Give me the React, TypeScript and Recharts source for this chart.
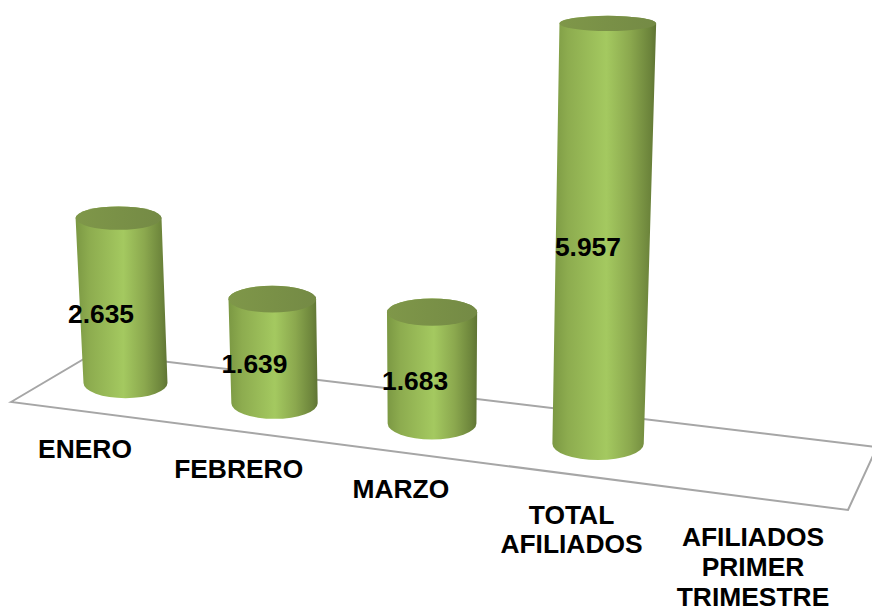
import { Bar, BarChart, LabelList, XAxis, YAxis } from "recharts"

const CATEGORIES = ["ENERO", "FEBRERO", "MARZO", "TOTAL AFILIADOS"]
const AFILIADOS = [2635, 1639, 1683, 5957]
const SERIES_NAME = "AFILIADOS PRIMER TRIMESTRE"

const chartData = CATEGORIES.map((name, i) => ({ name, afiliados: AFILIADOS[i] }))

const FONT = "'Liberation Sans', Arial, sans-serif"
const FONT_SIZE = 26.4
const PLOT_HEIGHT = 480
const Y_MAX = 6000

// the original is a 3D chart, so every bar goes through this perspective
const depthOf = (cx: number) => (cx - 125) / 149
const screenX = (k: number) => 125 + 149 * k + 4.25 * k * (k - 1)
const groundY = (k: number) => 383 + 20.2 * k
const pxPerUnit = (k: number) => 0.0626 + 0.00003 * k + 0.00087 * k * k
const convergence = 1.38e-4
const ellipseRy = (y: number) => 7.6 + 0.021 * (y - 23)

const formatValue = (v: number) => String(v).replace(/\B(?=(\d{3})+$)/g, ".")

const project = (x: number, width: number, height: number) => {
  const k = depthOf(x + width / 2)
  const cxB = screenX(k)
  const yB = groundY(k)
  const h = height * (pxPerUnit(k) / (PLOT_HEIGHT / Y_MAX))
  const rxB = (width / 2) * (1 + (0.0078 * (cxB - 125)) / 42)
  const lean = (cxB - 430) * convergence * h
  const rxT = rxB * (1 + h * convergence)
  return { k, cxB, yB, rxB, rxT, cxT: cxB + lean, yT: yB - h }
}

const Cylinder = (props: any) => {
  const { x, width, height } = props
  const { cxB, yB, rxB, rxT, cxT, yT } = project(x, width, height)
  const ryB = ellipseRy(yB)
  const ryT = ellipseRy(yT)
  const d = [
    `M${cxT - rxT},${yT}`,
    `L${cxB - rxB},${yB}`,
    `A${rxB},${ryB} 0 0 0 ${cxB + rxB},${yB}`,
    `L${cxT + rxT},${yT}`,
    `A${rxT},${ryT} 0 0 0 ${cxT - rxT},${yT}`,
    "Z",
  ].join(" ")
  return (
    <g>
      <path d={d} fill="url(#cylinderBody)" />
      <ellipse cx={cxT} cy={yT} rx={rxT} ry={ryT} fill="url(#cylinderTop)" />
    </g>
  )
}

const ValueLabel = (props: any) => {
  const { x, width, height, value } = props
  const { k, cxB, yB, cxT, yT } = project(x, width, height)
  return (
    <text
      x={(cxB + cxT) / 2 - 21 + 2 * k}
      y={(yB + yT) / 2 + 13}
      dy={9}
      textAnchor="middle"
      fontFamily={FONT}
      fontWeight="bold"
      fontSize={FONT_SIZE}
      fill="#000"
    >
      {formatValue(value)}
    </text>
  )
}

const CategoryTick = (props: any) => {
  const { x, payload } = props
  const k = depthOf(x)
  const lines = String(payload.value).split(" ")
  const y = groundY(k) + (lines.length > 1 ? 71 : 66) + 9
  const labelX = screenX(k) - 40 + 4.67 * k
  return (
    <text x={labelX} y={y} textAnchor="middle" fontFamily={FONT} fontWeight="bold" fontSize={FONT_SIZE} fill="#000">
      {lines.map((line, i) => (
        <tspan key={line} x={labelX} dy={i === 0 ? 0 : 29}>
          {line}
        </tspan>
      ))}
    </text>
  )
}

export default function App() {
  return (
    <div style={{ position: "absolute", left: 0, top: 0, width: 872, height: 612, background: "#fff" }}>
      <BarChart
        width={872}
        height={612}
        data={chartData}
        barSize={84}
        margin={{ top: 60, right: 225.5, bottom: 32, left: 50.5 }}
      >
        <defs>
          <linearGradient id="cylinderBody" x1="0" y1="0" x2="1" y2="0">
            <stop offset="0%" stopColor="#7b9843" />
            <stop offset="15%" stopColor="#8dac4f" />
            <stop offset="52%" stopColor="#a4c960" />
            <stop offset="75%" stopColor="#8ba84e" />
            <stop offset="94%" stopColor="#6c843b" />
            <stop offset="100%" stopColor="#5f7434" />
          </linearGradient>
          <linearGradient id="cylinderTop" x1="0" y1="0" x2="1" y2="0">
            <stop offset="0%" stopColor="#7f9749" />
            <stop offset="100%" stopColor="#748a45" />
          </linearGradient>
        </defs>
        <polygon points="11,402 94,353 877,447 848,510" fill="none" stroke="#a6a6a6" strokeWidth={2} />
        <XAxis
          dataKey="name"
          interval={0}
          height={40}
          axisLine={false}
          tickLine={false}
          tick={<CategoryTick />}
        />
        <YAxis hide domain={[0, Y_MAX]} />
        <Bar dataKey="afiliados" name={SERIES_NAME} shape={<Cylinder />} isAnimationActive={false}>
          <LabelList dataKey="afiliados" content={<ValueLabel />} />
        </Bar>
        <text textAnchor="middle" fontFamily={FONT} fontWeight="bold" fontSize={FONT_SIZE} fill="#000">
          {SERIES_NAME.split(" ").map((line, i) => (
            <tspan key={line} x={753} y={545.5 + 30.2 * i}>
              {line}
            </tspan>
          ))}
        </text>
      </BarChart>
    </div>
  )
}
